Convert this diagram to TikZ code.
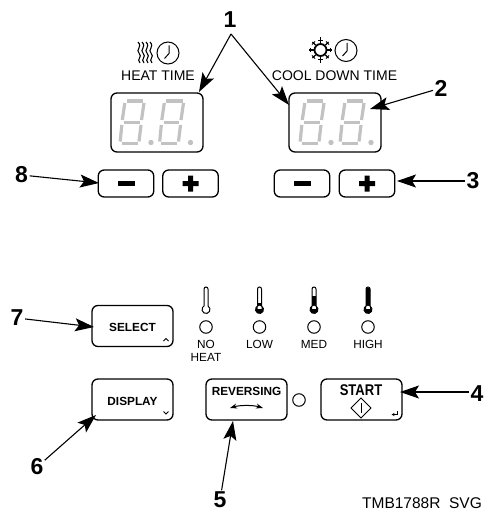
\documentclass[tikz,border=0pt]{standalone}
\usepackage{fontspec}
\usepackage{graphicx}
\setmainfont{Liberation Sans}
\usetikzlibrary{arrows.meta}
\newcommand{\sevseg}[2]{%
 \begin{scope}[shift={(#1,#2)},line width=3.2pt,draw=segc,line cap=butt,line join=round]
  \draw (8,-44.5) -- (24.5,-44.5);
  \draw (6.3,-42.5) -- (3.8,-25.5);
  \draw (25.5,-42.5) -- (23,-25.5);
  \draw (5.5,-23) -- (21,-23);
  \draw (3.3,-20.5) -- (1.7,-4);
  \draw (22.5,-20.5) -- (20.5,-4);
  \draw (3,-1.7) -- (19,-1.7);
  \fill[segc] (32.5,-3) circle (2.7);
 \end{scope}}
\newcommand{\thermo}[2]{%
 \begin{scope}[shift={(#1,0)}]
  \ifx#2n\else\fill[black] (-2,#2) rectangle (2,309) (0,309.5) circle (3.9);\fi
  \draw[line width=1pt] (-2,306) -- (-2,289) arc[start angle=180,end angle=360,radius=2] -- (2,306)
     arc[start angle=-60,end angle=240,radius=4] -- cycle;
 \end{scope}}
\newcommand{\waves}[1]{\draw[line width=1.1pt] (#1,42) .. controls (#1+5,47) and (#1-3,50) .. (#1+1,53) .. controls (#1+5,57) and (#1-2,59) .. (#1+2,63);}
\tikzset{
 x=1pt,y=-1pt,
 panel/.style={draw,line width=1.3pt,rounded corners=6pt,inner sep=0pt,outer sep=0pt},
 disp/.style={panel,minimum width=92pt,minimum height=59pt},
 smallbtn/.style={panel,minimum width=55.5pt,minimum height=27pt},
 bigbtn/.style={panel,minimum width=81pt,minimum height=41pt},
 led/.style={draw,circle,line width=1pt,minimum size=12.5pt,inner sep=0pt},
 clockface/.style={draw,circle,line width=1pt,minimum size=22pt,inner sep=0pt},
 num/.style={font=\fontsize{23}{23}\selectfont\bfseries,inner sep=0pt},
 captxt/.style={font=\fontsize{14}{14}\selectfont,inner sep=0pt},
 lvl/.style={font=\fontsize{11.8}{13}\selectfont,inner sep=0pt},
 btntxt/.style={font=\fontsize{11.8}{12}\selectfont\bfseries,inner sep=0pt},
 leader/.style={line width=1.1pt,-{Stealth[length=19pt,width=13pt,inset=4pt]}},
}
\definecolor{segc}{gray}{0.76}
\begin{document}
\begin{tikzpicture}
\useasboundingbox (0,0) rectangle (484,511);
% displays
\node[disp] (d1) at (157,122.5) {};
\node[disp] (d2) at (335,122.5) {};
\sevseg{118.5}{145.5}\sevseg{158}{145.5}
\sevseg{298.5}{145.5}\sevseg{338.5}{145.5}
% captions
\node[captxt] (c1) at (158,75.5) {HEAT TIME};
\node[captxt] (c2) at (334.5,75.5) {COOL DOWN TIME};
% heat symbol
\waves{138}\waves{142}\waves{146}\waves{150}
\node[clockface] (k1) at (168,53) {};
\draw[line width=1pt] (k1.center) ++(1,-7.5) -- ++(0,8) -- ++(-4.5,5);
% sun symbol
\node[draw,circle,line width=1.8pt,minimum size=12pt,inner sep=0pt] (s) at (320.5,50) {};
\foreach \a in {0,45,...,315}{%
  \draw[line width=1.2pt] (s.\a) -- ++({4.5*cos(\a)},{-4.5*sin(\a)});
  \draw[line width=1pt] (s.\a) ++({3*cos(\a)+2.2*sin(\a)},{-3*sin(\a)+2.2*cos(\a)}) -- ++({-4.4*sin(\a)},{-4.4*cos(\a)});}
\foreach \a in {90,270}{\draw[line width=1pt] (s.\a) -- ++(0,{-6*sin(\a)});}
\node[clockface] (k2) at (346,50.5) {};
\draw[line width=1pt] (k2.center) ++(1,-7.5) -- ++(0,8) -- ++(-4.5,5);
% small buttons
\node[smallbtn] (b1) at (126,183.5) {};
\node[smallbtn] (b2) at (190.5,183.5) {};
\node[smallbtn] (b3) at (302,183.5) {};
\node[smallbtn] (b4) at (367,183.5) {};
\fill (b1.center) ++(-8.5,-2.7) rectangle ++(17,5.4);
\fill (b3.center) ++(-8.5,-2.7) rectangle ++(17,5.4);
\fill (b2.center) ++(-8,-2.5) rectangle ++(16,5) (b2.center) ++(-2.5,-8) rectangle ++(5,16);
\fill (b4.center) ++(-8,-2.5) rectangle ++(16,5) (b4.center) ++(-2.5,-8) rectangle ++(5,16);
% big buttons
\node[bigbtn] (sel) at (132.5,326) {};
\node[bigbtn] (dsp) at (132.5,399.5) {};
\node[bigbtn] (rev) at (246.5,399.5) {};
\node[bigbtn] (sta) at (361.5,399.5) {};
\node[btntxt] (tsel) at (132.5,327.5) {SELECT};
\node[btntxt] (tdsp) at (132.5,401) {DISPLAY};
\node[btntxt] (trev) at (246.5,391) {REVERSING};
\node[btntxt,font=\fontsize{15.5}{15}\selectfont\bfseries] (tsta) at (361,390) {\scalebox{.84}[1]{START}};
\draw[line width=.9pt] (163.5,341) -- (166,338.5) -- (168.5,341);
\draw[line width=.9pt] (163.5,411.5) -- (166,414) -- (168.5,411.5);
\draw[line width=.8pt,-{Stealth[length=3pt,width=3pt]}] (397,411) -- (397,414.5) -- (391.5,414.5);
% reversing arrow
\draw[line width=1pt,{Stealth[length=7pt,width=5pt]}-{Stealth[length=7pt,width=5pt]}] (230,408) .. controls (240,405) and (253,405) .. (263,408);
% start diamond
\draw[line width=1pt] (361,398) -- (371,408) -- (361,418) -- (351,408) -- cycle;
\draw[line width=1pt] (361,403) -- (361,413);
\node[led] (l5) at (299,400) {};
% thermometers and LEDs
\thermo{206}{n}\thermo{259.5}{303}\thermo{314}{296}\thermo{368}{288}
\node[led] (l1) at (206,327) {};
\node[led] (l2) at (259.5,327) {};
\node[led] (l3) at (314,327) {};
\node[led] (l4) at (368,327) {};
\node[lvl,align=center] (t1) at (206,350.5) {NO\\HEAT};
\node[lvl] (t2) at (259.5,344) {LOW};
\node[lvl] (t3) at (314,344) {MED};
\node[lvl] (t4) at (368,344) {HIGH};
\node[captxt,font=\fontsize{15.5}{16}\selectfont] (tmb) at (422,503) {TMB1788R\ \ SVG};
% numbers
\node[num] (n1) at (230,20) {1};
\node[num] (n2) at (441,88) {2};
\node[num] (n3) at (473,181) {3};
\node[num] (n4) at (477,394) {4};
\node[num] (n5) at (220,500) {5};
\node[num] (n6) at (37,467) {6};
\node[num] (n7) at (17,318) {7};
\node[num] (n8) at (21.5,175) {8};
% leader ends
\coordinate (apex) at (231,34);
\coordinate (e1a) at (199,92);
\coordinate (e1b) at (289,105);
\coordinate (e2) at (370,109);
\coordinate (e3) at (397,181);
\coordinate (e4) at (400,392);
\coordinate (e5) at (233,421);
\coordinate (e6) at (96,415);
\coordinate (e7) at (94,327);
\coordinate (e8) at (99,183);
\draw[leader] (apex) -- (e1a);
\draw[leader] (apex) -- (e1b);
\draw[leader,shorten <=1.5pt] (n2) -- (e2);
\draw[leader] (n3.west |- e3) ++(-1.5,0) -- (e3);
\draw[leader] (n4.west |- e4) ++(-1.5,0) -- (e4);
\draw[leader,shorten <=1.5pt] (n5) -- (e5);
\draw[leader,shorten <=1.5pt] (n6) -- (e6);
\draw[leader,shorten <=1.5pt] (n7) -- (e7);
\draw[leader,shorten <=1.5pt] (n8) -- (e8);
\end{tikzpicture}
\end{document}
